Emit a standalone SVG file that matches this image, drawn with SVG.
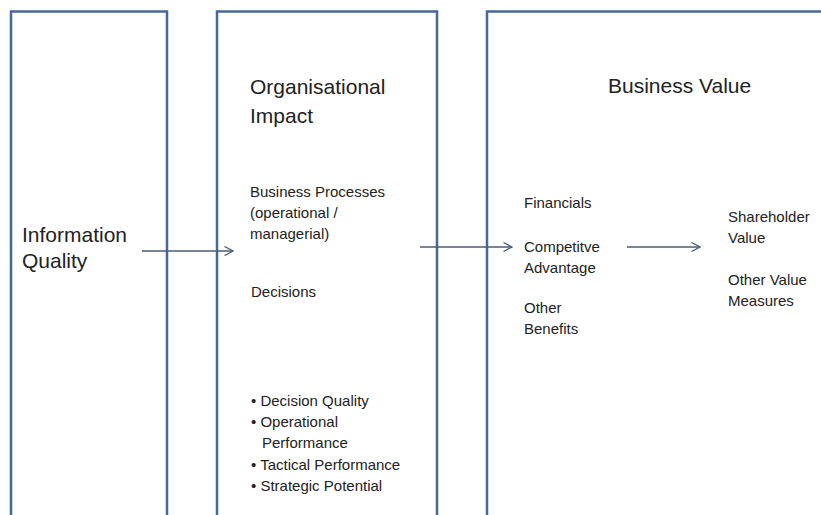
<svg xmlns="http://www.w3.org/2000/svg" width="821" height="515" viewBox="0 0 821 515">
  <defs>
    <marker id="chevron" viewBox="0 0 10 10" refX="9.5" refY="5" markerWidth="10" markerHeight="10" markerUnits="userSpaceOnUse" orient="auto">
      <path d="M1,0.5 L9.5,5 L1,9.5" fill="none" stroke="#4d5b74" stroke-width="1.3"/>
    </marker>
  </defs>
  <style>
    .panel { fill: none; stroke: #46679a; stroke-width: 2.5; }
    .big { font-family: "Liberation Sans", Arial, sans-serif; font-size: 21px; fill: #222; }
    .small { font-family: "Liberation Sans", Arial, sans-serif; font-size: 15px; fill: #222; }
    .link { stroke: #4d5b74; stroke-width: 1.3; fill: none; marker-end: url(#chevron); }
  </style>
  <rect width="821" height="515" fill="#ffffff"/>

  <g id="information-quality">
    <rect class="panel" x="11" y="11.5" width="156" height="530"/>
    <text class="big" x="22" y="242" font-size="22">Information</text>
    <text class="big" x="22" y="268" font-size="22">Quality</text>
  </g>

  <g id="organisational-impact">
    <rect class="panel" x="217" y="11.5" width="220" height="530"/>
    <text class="big" x="250" y="94">Organisational</text>
    <text class="big" x="250" y="123">Impact</text>
    <text class="small" x="250" y="197">Business Processes</text>
    <text class="small" x="250" y="218">(operational /</text>
    <text class="small" x="250" y="239">managerial)</text>
    <text class="small" x="251" y="297">Decisions</text>
    <g class="small" font-size="15.5">
      <text x="251" y="406">• Decision Quality</text>
      <text x="251" y="427">• Operational</text>
      <text x="262" y="448">Performance</text>
      <text x="251" y="470">• Tactical Performance</text>
      <text x="251" y="491">• Strategic Potential</text>
    </g>
  </g>

  <g id="business-value">
    <rect class="panel" x="487" y="11.5" width="360" height="530"/>
    <text class="big" x="608" y="93">Business Value</text>
    <text class="small" x="524" y="208">Financials</text>
    <text class="small" x="524" y="252">Competitve</text>
    <text class="small" x="524" y="273">Advantage</text>
    <text class="small" x="524" y="313">Other</text>
    <text class="small" x="524" y="334">Benefits</text>
    <text class="small" x="728" y="222">Shareholder</text>
    <text class="small" x="728" y="243">Value</text>
    <text class="small" x="728" y="285">Other Value</text>
    <text class="small" x="728" y="306">Measures</text>
  </g>

  <g id="connectors">
    <line class="link" x1="142" y1="251" x2="233" y2="251"/>
    <line class="link" x1="420" y1="247" x2="512" y2="247"/>
    <line class="link" x1="627" y1="247" x2="700" y2="247"/>
  </g>
</svg>
